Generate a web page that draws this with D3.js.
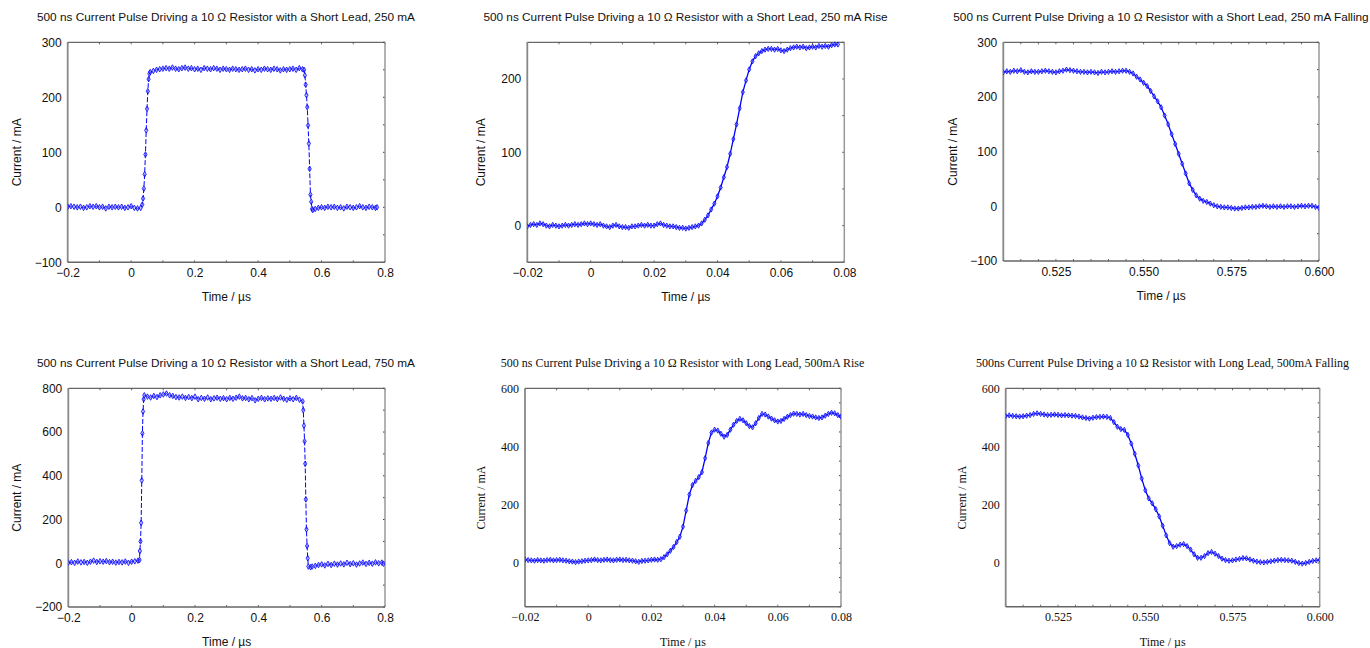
<!DOCTYPE html>
<html>
<head>
<meta charset="utf-8">
<script src="https://cdn.jsdelivr.net/npm/d3@7"></script>
<style>
  body { margin: 0; background: #fff; }
  svg { display: block; }
</style>
</head>
<body>
<svg id="chart" width="1370" height="648"></svg>
<script>
// ---------- DATA (time in µs, current in mA) ----------
const shortLead250 = [
  [-0.20,1],[-0.19,2],[-0.18,1],[-0.17,0],[-0.16,1],[-0.15,-1],[-0.14,0],[-0.13,2],[-0.12,1],[-0.11,2],
  [-0.10,0],[-0.09,1],[-0.08,-2],[-0.07,1],[-0.06,0],[-0.05,1],[-0.04,0],[-0.03,1],[-0.02,-1],[-0.01,0],
  [0.00,2],[0.01,-1],[0.02,-2],[0.03,-1],
  [0.035,5],[0.0375,16],[0.04,34],[0.0425,60],[0.045,96],[0.0475,140],[0.05,179],[0.0525,211],[0.055,233],[0.0575,243],[0.06,246],
  [0.07,248],[0.08,250],[0.09,251],[0.10,252],[0.11,253],[0.12,252],[0.13,254],[0.14,252],[0.15,251],[0.16,253],
  [0.17,254],[0.18,252],[0.19,253],[0.20,251],[0.21,252],[0.22,250],[0.23,253],[0.24,252],[0.25,251],[0.26,253],
  [0.27,252],[0.28,250],[0.29,252],[0.30,251],[0.31,250],[0.32,252],[0.33,251],[0.34,250],[0.35,251],[0.36,252],
  [0.37,250],[0.38,251],[0.39,249],[0.40,251],[0.41,250],[0.42,252],[0.43,251],[0.44,250],[0.45,252],[0.46,251],
  [0.47,249],[0.48,251],[0.49,250],[0.50,251],[0.51,252],[0.52,250],[0.53,253],[0.54,251],[0.545,250],
  [0.5475,240],[0.55,223],[0.5525,204],[0.555,182],[0.5575,149],[0.56,116],[0.5625,70],[0.565,23],[0.5675,10],[0.57,-3],[0.5725,-5],
  [0.58,-3],[0.59,-1],[0.60,0],[0.61,-1],[0.62,1],[0.63,0],[0.64,1],[0.65,-1],[0.66,0],[0.67,-2],
  [0.68,1],[0.69,0],[0.70,-1],[0.71,0],[0.72,2],[0.73,0],[0.74,-1],[0.75,1],[0.76,0],[0.77,-1],[0.775,0]
];

const shortLead250Rise = [
  [-0.020,-1],[-0.019,1],[-0.018,2],[-0.017,1],[-0.016,3],[-0.015,2],[-0.014,0],[-0.013,-1],[-0.012,1],[-0.011,0],
  [-0.010,-1],[-0.009,0],[-0.008,1],[-0.007,0],[-0.006,1],[-0.005,2],[-0.004,1],[-0.003,2],[-0.002,3],[-0.001,2],
  [0.000,3],[0.001,2],[0.002,1],[0.003,2],[0.004,0],[0.005,-1],[0.006,-2],[0.007,0],[0.008,1],[0.009,-1],
  [0.010,-2],[0.011,-2],[0.012,-3],[0.013,-1],[0.014,-1],[0.015,0],[0.016,1],[0.017,0],[0.018,1],[0.019,0],
  [0.020,0],[0.021,2],[0.022,3],[0.023,1],[0.024,0],[0.025,-1],[0.026,-1],[0.027,-2],[0.028,-3],[0.029,-3],
  [0.030,-4],[0.031,-3],[0.032,-2],[0.033,-1],[0.034,0],[0.035,3],[0.036,8],[0.037,14],[0.038,22],[0.039,30],
  [0.040,40],[0.041,52],[0.042,66],[0.043,80],[0.044,98],[0.045,118],[0.046,138],[0.047,160],[0.048,182],[0.049,198],
  [0.050,213],[0.051,224],[0.052,231],[0.053,235],[0.054,238],[0.055,240],[0.056,241],[0.057,241],[0.058,240],[0.059,241],
  [0.060,239],[0.061,238],[0.062,240],[0.063,242],[0.064,243],[0.065,244],[0.066,243],[0.067,244],[0.068,242],[0.069,243],
  [0.070,244],[0.071,243],[0.072,245],[0.073,244],[0.074,245],[0.075,244],[0.076,246],[0.077,247],[0.078,247]
];

const shortLead250Fall = [
  [0.510,245],[0.511,247],[0.512,246],[0.513,248],[0.514,247],[0.515,249],[0.516,246],[0.517,245],[0.518,247],[0.519,246],
  [0.520,246],[0.521,247],[0.522,248],[0.523,247],[0.524,246],[0.525,245],[0.526,247],[0.527,248],[0.528,250],[0.529,249],
  [0.530,248],[0.531,247],[0.532,246],[0.533,246],[0.534,245],[0.535,246],[0.536,245],[0.537,244],[0.538,246],[0.539,245],
  [0.540,246],[0.541,247],[0.542,246],[0.543,247],[0.544,248],[0.545,248],[0.546,246],[0.547,243],[0.548,237],[0.549,232],
  [0.550,226],[0.551,220],[0.552,211],[0.553,201],[0.554,192],[0.555,181],[0.556,166],[0.557,150],[0.558,132],[0.559,114],
  [0.560,96],[0.561,78],[0.562,60],[0.563,42],[0.564,30],[0.565,20],[0.566,14],[0.567,10],[0.568,8],[0.569,5],
  [0.570,2],[0.571,0],[0.572,-1],[0.573,-2],[0.574,-2],[0.575,-3],[0.576,-4],[0.577,-4],[0.578,-3],[0.579,-2],
  [0.580,-2],[0.581,-1],[0.582,-1],[0.583,0],[0.584,1],[0.585,0],[0.586,-1],[0.587,0],[0.588,-1],[0.589,0],
  [0.590,-1],[0.591,0],[0.592,0],[0.593,-1],[0.594,0],[0.595,1],[0.596,0],[0.597,1],[0.598,1],[0.599,-1],[0.600,-3]
];

const shortLead750 = [
  [-0.20,3],[-0.19,5],[-0.18,2],[-0.17,8],[-0.16,4],[-0.15,6],[-0.14,2],[-0.13,7],[-0.12,12],[-0.11,6],
  [-0.10,9],[-0.09,7],[-0.08,10],[-0.07,5],[-0.06,7],[-0.05,3],[-0.04,6],[-0.03,4],[-0.02,8],[-0.01,2],
  [0.00,7],[0.01,9],[0.02,12],[0.025,15],
  [0.026,56],[0.028,100],[0.030,185],[0.032,379],[0.034,594],[0.036,694],[0.038,750],[0.040,768],
  [0.05,762],[0.06,758],[0.07,765],[0.08,760],[0.09,768],[0.10,772],[0.11,776],[0.12,768],[0.13,765],[0.14,760],
  [0.15,758],[0.16,762],[0.17,756],[0.18,760],[0.19,755],[0.20,762],[0.21,750],[0.22,756],[0.23,752],[0.24,758],
  [0.25,750],[0.26,754],[0.27,757],[0.28,752],[0.29,755],[0.30,750],[0.31,756],[0.32,752],[0.33,757],[0.34,762],
  [0.35,754],[0.36,756],[0.37,750],[0.38,755],[0.39,745],[0.40,752],[0.41,756],[0.42,750],[0.43,754],[0.44,752],
  [0.45,756],[0.46,751],[0.47,758],[0.48,752],[0.49,748],[0.50,754],[0.51,750],[0.52,756],[0.53,748],[0.54,740],
  [0.542,700],[0.544,629],[0.546,558],[0.548,455],[0.550,292],[0.552,155],[0.554,79],[0.556,23],[0.558,-15],
  [0.565,-18],[0.57,-15],[0.58,-12],[0.59,-8],[0.60,-5],[0.61,-10],[0.62,-3],[0.63,-8],[0.64,-2],[0.65,-6],
  [0.66,-1],[0.67,-5],[0.68,2],[0.69,-4],[0.70,0],[0.71,-6],[0.72,-1],[0.73,3],[0.74,-3],[0.75,2],
  [0.76,-2],[0.77,4],[0.78,0],[0.79,3],[0.795,-2]
];

const longLead500Rise = [
  [-0.020,12],[-0.019,10],[-0.018,9],[-0.017,8],[-0.016,10],[-0.015,9],[-0.014,8],[-0.013,10],[-0.012,11],[-0.011,9],
  [-0.010,10],[-0.009,11],[-0.008,9],[-0.007,8],[-0.006,6],[-0.005,5],[-0.004,3],[-0.003,5],[-0.002,6],[-0.001,8],
  [0.000,9],[0.001,10],[0.002,12],[0.003,10],[0.004,9],[0.005,11],[0.006,12],[0.007,10],[0.008,9],[0.009,11],
  [0.010,12],[0.011,10],[0.012,11],[0.013,9],[0.014,8],[0.015,6],[0.016,4],[0.017,7],[0.018,8],[0.019,9],
  [0.020,11],[0.021,12],[0.022,11],[0.023,13],[0.024,20],[0.025,30],[0.026,42],[0.027,55],[0.028,72],[0.029,90],
  [0.030,125],[0.031,180],[0.032,235],[0.033,268],[0.034,282],[0.035,295],[0.036,312],[0.037,360],[0.038,412],[0.039,448],
  [0.040,458],[0.041,455],[0.042,444],[0.043,434],[0.044,440],[0.045,458],[0.046,475],[0.047,488],[0.048,495],[0.049,490],
  [0.050,480],[0.051,470],[0.052,466],[0.053,480],[0.054,498],[0.055,512],[0.056,510],[0.057,503],[0.058,496],[0.059,490],
  [0.060,486],[0.061,488],[0.062,495],[0.063,502],[0.064,508],[0.065,513],[0.066,512],[0.067,510],[0.068,512],[0.069,508],
  [0.070,505],[0.071,503],[0.072,500],[0.073,498],[0.074,500],[0.075,506],[0.076,512],[0.077,516],[0.078,514],[0.079,508],[0.080,503]
];

const longLead500Fall = [
  [0.510,505],[0.511,507],[0.512,505],[0.513,504],[0.514,503],[0.515,504],[0.516,506],[0.517,508],[0.518,512],[0.519,514],
  [0.520,512],[0.521,510],[0.522,508],[0.523,509],[0.524,510],[0.525,509],[0.526,507],[0.527,508],[0.528,507],[0.529,506],
  [0.530,505],[0.531,503],[0.532,500],[0.533,498],[0.534,496],[0.535,499],[0.536,501],[0.537,502],[0.538,503],[0.539,502],
  [0.540,498],[0.541,484],[0.542,468],[0.543,460],[0.544,457],[0.545,440],[0.546,410],[0.547,375],[0.548,335],[0.549,290],
  [0.550,250],[0.551,222],[0.552,205],[0.553,185],[0.554,160],[0.555,128],[0.556,95],[0.557,68],[0.558,56],[0.559,58],
  [0.560,63],[0.561,65],[0.562,58],[0.563,46],[0.564,30],[0.565,18],[0.566,18],[0.567,24],[0.568,34],[0.569,38],
  [0.570,32],[0.571,24],[0.572,15],[0.573,10],[0.574,8],[0.575,9],[0.576,12],[0.577,14],[0.578,17],[0.579,16],
  [0.580,12],[0.581,8],[0.582,5],[0.583,3],[0.584,2],[0.585,4],[0.586,6],[0.587,8],[0.588,10],[0.589,11],
  [0.590,10],[0.591,9],[0.592,8],[0.593,4],[0.594,0],[0.595,-2],[0.596,0],[0.597,4],[0.598,7],[0.599,9],[0.600,11]
];

const titles = [
  "500 ns Current Pulse Driving a 10 \u03A9 Resistor with a Short Lead, 250 mA",
  "500 ns Current Pulse Driving a 10 \u03A9 Resistor with a Short Lead, 250 mA Rise",
  "500 ns Current Pulse Driving a 10 \u03A9 Resistor with a Short Lead, 250 mA Falling",
  "500 ns Current Pulse Driving a 10 \u03A9 Resistor with a Short Lead, 750 mA",
  "500 ns Current Pulse Driving a 10 \u03A9 Resistor with Long Lead, 500mA Rise",
  "500ns Current Pulse Driving a 10 \u03A9 Resistor with Long Lead, 500mA Falling"
];

const xTicksFull = [-0.2, 0, 0.2, 0.4, 0.6, 0.8];
const xTicksRise = [-0.02, 0, 0.02, 0.04, 0.06, 0.08];
const xTicksFall = [0.525, 0.550, 0.575, 0.600];
const yTicks250 = [-100, 0, 100, 200, 300];
const yTicksRise250 = [0, 100, 200];
const yTicks750 = [-200, 0, 200, 400, 600, 800];
const yTicksLong = [0, 200, 400, 600];

const xLabel = "Time / \u00B5s";
const yLabel = "Current / mA";

// ---------- LAYOUT ----------
const sans = "'Liberation Sans', Arial, sans-serif";
const serif = "'Liberation Serif', 'Times New Roman', serif";

const panels = [
  { data: shortLead250, title: titles[0], xd: [-0.2, 0.8], yd: [-100, 300], xt: xTicksFull, yt: yTicks250, xf: d3.format("~g"),
    x0: 67.7, x1: 385, y0: 42.3, y1: 262.3, tx: 226, ty: 21, ylx: 17, font: sans, xMinor: 0.1, yMinor: 50, line: true },
  { data: shortLead250Rise, title: titles[1], xd: [-0.02, 0.08], yd: [-50, 250], xt: xTicksRise, yt: yTicksRise250, xf: d3.format("~g"),
    x0: 527.3, x1: 844.3, y0: 42.3, y1: 262.3, tx: 685.5, ty: 21, ylx: 481, font: sans, xMinor: 0.01, yMinor: 50 },
  { data: shortLead250Fall, title: titles[2], xd: [0.51, 0.60], yd: [-100, 300], xt: xTicksFall, yt: yTicks250, xf: d3.format(".3f"),
    x0: 1003.3, x1: 1319, y0: 42.3, y1: 261, tx: 1161, ty: 21, ylx: 953, font: sans, xMinor: 0.005, yMinor: 50 },
  { data: shortLead750, title: titles[3], xd: [-0.2, 0.8], yd: [-200, 800], xt: xTicksFull, yt: yTicks750, xf: d3.format("~g"),
    x0: 68.3, x1: 385, y0: 388.3, y1: 607, tx: 226, ty: 367, ylx: 17, font: sans, xMinor: 0.1, yMinor: 100, line: true },
  { data: longLead500Rise, title: titles[4], xd: [-0.02, 0.08], yd: [-150, 600], xt: xTicksRise, yt: yTicksLong, xf: d3.format("~g"),
    x0: 525, x1: 841, y0: 388.3, y1: 606.7, tx: 682.5, ty: 367, ylx: 481, font: serif, xMinor: 0.01, yMinor: 50 },
  { data: longLead500Fall, title: titles[5], xd: [0.51, 0.60], yd: [-150, 600], xt: xTicksFall, yt: yTicksLong, xf: d3.format(".3f"),
    x0: 1005.7, x1: 1319.7, y0: 388.3, y1: 606.7, tx: 1162.5, ty: 367, ylx: 962, font: serif, xMinor: 0.005, yMinor: 50 }
];

const svg = d3.select("#chart");
const blue = "#0000ff";

panels.forEach((p, i) => {
  const g = svg.append("g");
  const x = d3.scaleLinear().domain(p.xd).range([p.x0, p.x1]);
  const y = d3.scaleLinear().domain(p.yd).range([p.y1, p.y0]);
  const isSerif = p.font === serif;
  const fs = isSerif ? 12 : 12;

  // title
  g.append("text").attr("x", p.tx).attr("y", p.ty).attr("text-anchor", "middle")
    .attr("font-family", p.font).attr("font-size", isSerif ? 12 : 11.8).attr("fill", "#111").text(p.title);

  // minor inside ticks (top, bottom, right)
  const xm = d3.range(Math.ceil(p.xd[0] / p.xMinor - 1e-6), Math.floor(p.xd[1] / p.xMinor + 1e-6) + 1).map(k => k * p.xMinor);
  const ym = d3.range(Math.ceil(p.yd[0] / p.yMinor - 1e-6), Math.floor(p.yd[1] / p.yMinor + 1e-6) + 1).map(k => k * p.yMinor);
  g.selectAll(".tkx").data(xm).enter().append("line")
    .attr("x1", d => x(d)).attr("x2", d => x(d)).attr("y1", p.y0).attr("y2", p.y0 + 2)
    .attr("stroke", "#666").attr("stroke-width", 1);
  g.selectAll(".tkxb").data(xm).enter().append("line")
    .attr("x1", d => x(d)).attr("x2", d => x(d)).attr("y1", p.y1).attr("y2", p.y1 - 2)
    .attr("stroke", "#666").attr("stroke-width", 1);
  g.selectAll(".tky").data(ym).enter().append("line")
    .attr("x1", p.x1).attr("x2", p.x1 - 2).attr("y1", d => y(d)).attr("y2", d => y(d))
    .attr("stroke", "#444").attr("stroke-width", 1);

  // frame
  g.append("line").attr("x1", p.x0).attr("x2", p.x1).attr("y1", p.y0).attr("y2", p.y0).attr("stroke", "#444").attr("stroke-width", 1);
  g.append("line").attr("x1", p.x1).attr("x2", p.x1).attr("y1", p.y0).attr("y2", p.y1).attr("stroke", "#999").attr("stroke-width", 1.5);
  g.append("line").attr("x1", p.x0).attr("x2", p.x0).attr("y1", p.y0).attr("y2", p.y1).attr("stroke", "#888").attr("stroke-width", 1.8);
  g.append("line").attr("x1", p.x0).attr("x2", p.x1).attr("y1", p.y1).attr("y2", p.y1).attr("stroke", "#666").attr("stroke-width", 1.5);

  // tick labels via d3 axes (no domain / no tick lines)
  const xAxis = d3.axisBottom(x).tickValues(p.xt).tickFormat(p.xf).tickSize(0).tickPadding(6);
  const xa = g.append("g").attr("transform", `translate(0,${p.y1})`).call(xAxis);
  xa.select(".domain").remove();
  xa.selectAll("text").attr("font-family", p.font).attr("font-size", fs).attr("fill", "#111");

  const yAxis = d3.axisLeft(y).tickValues(p.yt).tickFormat(d3.format("~g")).tickSize(0).tickPadding(6);
  const ya = g.append("g").attr("transform", `translate(${p.x0},0)`).call(yAxis);
  ya.select(".domain").remove();
  ya.selectAll("text").attr("font-family", p.font).attr("font-size", fs).attr("fill", "#111");

  // axis titles
  g.append("text").attr("x", (p.x0 + p.x1) / 2).attr("y", p.y1 + 39).attr("text-anchor", "middle")
    .attr("font-family", p.font).attr("font-size", fs).attr("fill", "#111").text(xLabel);
  g.append("text").attr("transform", `translate(${p.ylx + 4},${(p.y0 + p.y1) / 2}) rotate(-90)`)
    .attr("text-anchor", "middle").attr("font-family", p.font).attr("font-size", fs).attr("fill", "#111").text(yLabel);

  // data line + markers
  const clipId = "clip" + i;
  svg.append("clipPath").attr("id", clipId).append("rect")
    .attr("x", p.x0).attr("y", p.y0 - 3).attr("width", p.x1 - p.x0).attr("height", p.y1 - p.y0 + 3);
  const dg = g.append("g").attr("clip-path", `url(#${clipId})`);
  const line = d3.line().x(d => x(d[0])).y(d => y(d[1]));
  dg.append("path").datum(p.data).attr("d", line).attr("fill", "none")
    .attr("stroke", blue).attr("stroke-width", p.line ? 1 : 1.3)
    .attr("stroke-dasharray", p.line ? "5,2" : null);
  const sym = d3.symbol().type(d3.symbolDiamond).size(p.line ? 9 : 8);
  dg.selectAll("path.m").data(p.data).enter().append("path").attr("class", "m")
    .attr("d", sym).attr("transform", d => `translate(${x(d[0])},${y(d[1])})`)
    .attr("fill", "#8080ff").attr("fill-opacity", 0.5).attr("stroke", blue).attr("stroke-width", 0.8);
});
</script>
</body>
</html>
